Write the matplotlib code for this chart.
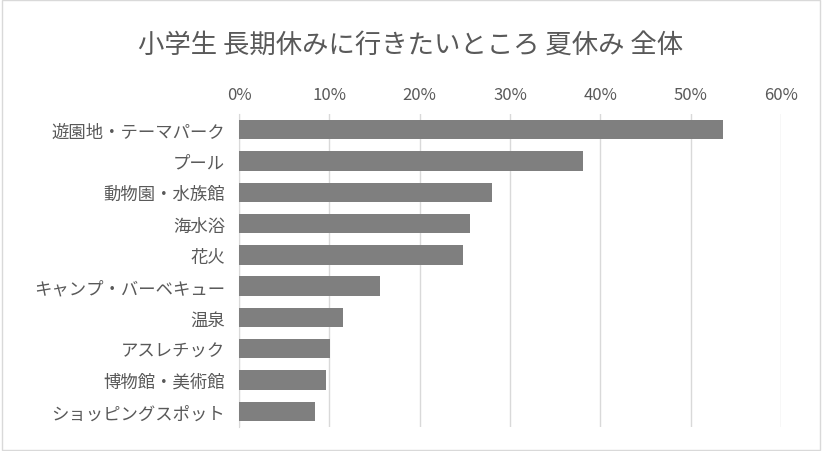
import matplotlib
matplotlib.use("Agg")
import matplotlib.pyplot as plt
from matplotlib.ticker import FuncFormatter

plt.rcParams["font.family"] = "Noto Sans CJK JP"

categories = ["遊園地・テーマパーク", "プール", "動物園・水族館", "海水浴", "花火",
              "キャンプ・バーベキュー", "温泉", "アスレチック", "博物館・美術館", "ショッピングスポット"]
values = [0.536, 0.381, 0.280, 0.256, 0.248, 0.156, 0.115, 0.101, 0.096, 0.084]
title = "小学生 長期休みに行きたいところ 夏休み 全体"

fig = plt.figure(figsize=(8.22, 4.52), dpi=100)
ax = fig.add_axes([239/822, 1-428/452, (781-239)/822, (428-115)/452])
y = list(range(len(categories)))
ax.barh(y, values, height=0.62, color="#7f7f7f", zorder=3)
ax.set_yticks(y)
ax.set_yticklabels(categories, fontsize=12.5, color="#595959")
ax.set_ylim(len(categories)-0.5, -0.5)
ax.set_xlim(0, 0.6)
ax.set_xticks([i/10 for i in range(7)])
ax.xaxis.set_major_formatter(FuncFormatter(lambda v, p: f"{round(v*100)}%"))
ax.xaxis.tick_top()
ax.tick_params(axis="x", labelsize=12, colors="#595959", length=0, pad=8)
ax.tick_params(axis="y", length=0, pad=10)
ax.grid(axis="x", color="#d9d9d9", linewidth=1, zorder=0)
for s in ax.spines.values():
    s.set_visible(False)
ax.spines["left"].set_visible(True)
ax.spines["left"].set_color("#d9d9d9")
fig.text(0.5, 1-45/452, title, ha="center", va="center", fontsize=19, color="#595959")
fig.patches.append(plt.Rectangle((0.002, 0.002), 0.996, 0.996, transform=fig.transFigure,
                                 fill=False, edgecolor="#d9d9d9", linewidth=1))
fig.savefig("out.png", dpi=100)
